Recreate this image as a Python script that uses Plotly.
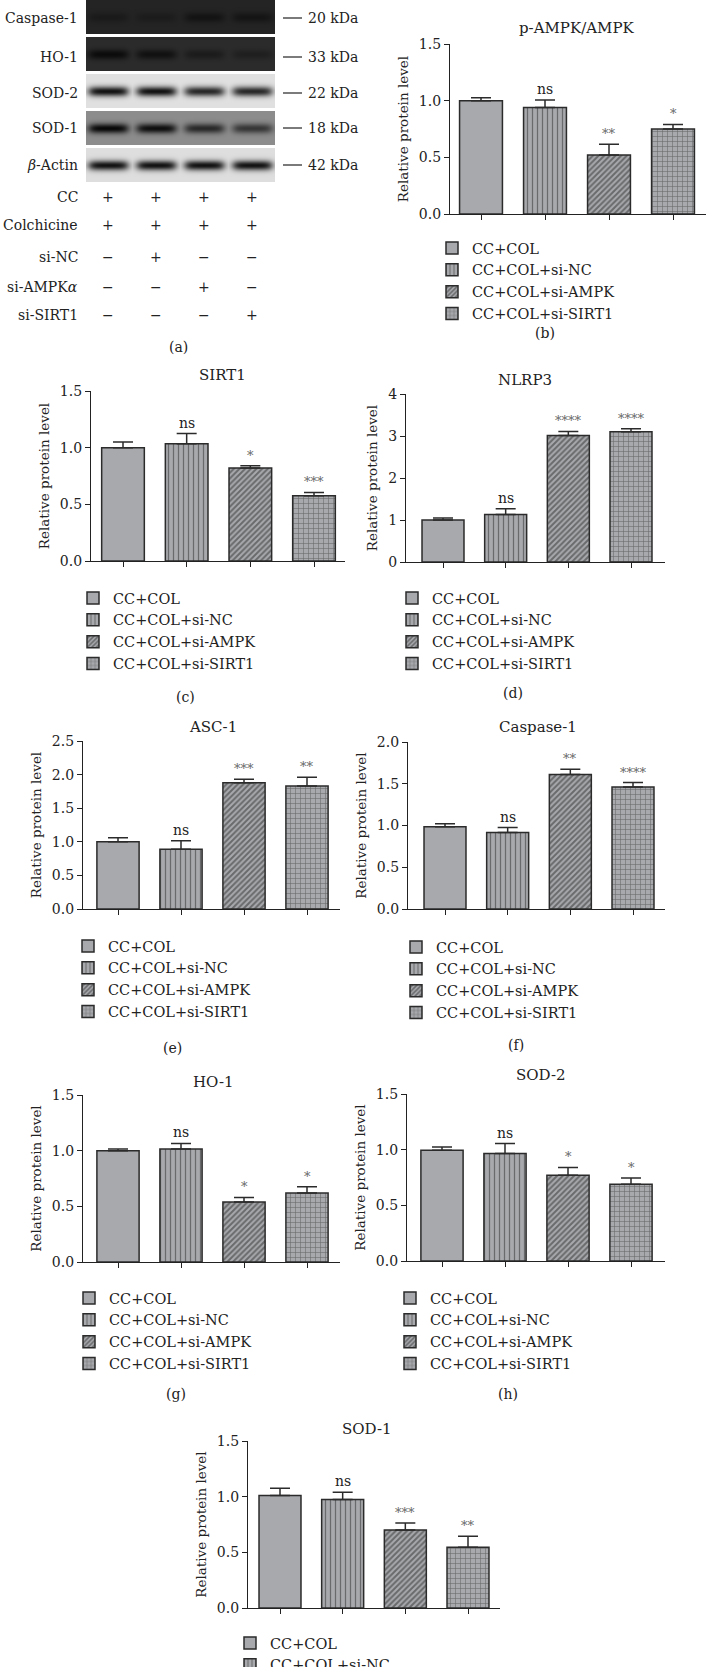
import numpy as np
import plotly.graph_objects as go

W, H = 706, 1667
FONT = "DejaVu Serif, Liberation Serif, serif"
INK = "#222222"
BAR_FILL = "#a7a9ac"
EDGE = "#2b2b2b"


def px(x):
    return x / W


def py(y):
    return 1 - y / H


groups = ["CC+COL", "CC+COL+si-NC", "CC+COL+si-AMPK", "CC+COL+si-SIRT1"]

ampk_mean = [1.00, 0.94, 0.52, 0.75]
ampk_err = [0.025, 0.065, 0.095, 0.04]
ampk_sig = ["", "ns", "**", "*"]

sirt1_mean = [1.00, 1.035, 0.82, 0.575]
sirt1_err = [0.05, 0.09, 0.02, 0.03]
sirt1_sig = ["", "ns", "*", "***"]

nlrp3_mean = [1.00, 1.13, 3.01, 3.10]
nlrp3_err = [0.05, 0.14, 0.10, 0.07]
nlrp3_sig = ["", "ns", "****", "****"]

asc_mean = [1.00, 0.89, 1.88, 1.83]
asc_err = [0.06, 0.125, 0.05, 0.13]
asc_sig = ["", "ns", "***", "**"]

casp_mean = [0.985, 0.915, 1.61, 1.46]
casp_err = [0.035, 0.06, 0.065, 0.055]
casp_sig = ["", "ns", "**", "****"]

ho1_mean = [1.00, 1.015, 0.54, 0.62]
ho1_err = [0.015, 0.05, 0.04, 0.055]
ho1_sig = ["", "ns", "*", "*"]

sod2_mean = [0.995, 0.965, 0.77, 0.69]
sod2_err = [0.03, 0.09, 0.07, 0.055]
sod2_sig = ["", "ns", "*", "*"]

sod1_mean = [1.01, 0.975, 0.70, 0.545]
sod1_err = [0.065, 0.065, 0.063, 0.10]
sod1_sig = ["", "ns", "***", "**"]

# western blot (panel a): background brightness and band strength per lane
blot_labels = ["Caspase-1", "HO-1", "SOD-2", "SOD-1", "<i>β</i>-Actin"]
blot_kda = ["20 kDa", "33 kDa", "22 kDa", "18 kDa", "42 kDa"]
blot_bg = [0.14, 0.17, 0.88, 0.55, 0.87]
blot_bands = [[0.35, 0.30, 0.60, 0.55],
              [0.90, 0.75, 0.45, 0.35],
              [0.95, 0.95, 0.85, 0.85],
              [1.00, 0.95, 0.75, 0.65],
              [0.95, 0.95, 0.95, 0.95]]

cond_labels = ["CC", "Colchicine", "si-NC", "si-AMPK<i>α</i>", "si-SIRT1"]
cond_signs = [["+", "+", "+", "+"],
              ["+", "+", "+", "+"],
              ["−", "+", "−", "−"],
              ["−", "−", "+", "−"],
              ["−", "−", "−", "+"]]

PATTERNS = [
    dict(shape=""),
    dict(shape="|", size=5, solidity=0.25, fgcolor=EDGE, fillmode="overlay"),
    dict(shape="/", size=4, solidity=0.5, fgcolor=EDGE, fillmode="overlay"),
    dict(shape="+", size=5, solidity=0.22, fgcolor=EDGE, fillmode="overlay"),
]

# panel geometry in pixels: axis x extent, first/last bar centre, y top/bottom
panels = [
    dict(title="p-AMPK/AMPK", mean=ampk_mean, err=ampk_err, sig=ampk_sig,
         ax=(450, 706), c=(481, 673), y=(44, 214), ymax=1.5, dtick=0.5, fmt=".1f",
         tpos=(576, 28), leg=(450, 247), lab="(b)", lpos=(545, 333)),
    dict(title="SIRT1", mean=sirt1_mean, err=sirt1_err, sig=sirt1_sig,
         ax=(91, 345), c=(123, 314), y=(391, 561), ymax=1.5, dtick=0.5, fmt=".1f",
         tpos=(222, 375), leg=(91, 597), lab="(c)", lpos=(185, 697)),
    dict(title="NLRP3", mean=nlrp3_mean, err=nlrp3_err, sig=nlrp3_sig,
         ax=(406, 665), c=(443, 631), y=(394, 562), ymax=4, dtick=1, fmt="d",
         tpos=(525, 380), leg=(410, 597), lab="(d)", lpos=(513, 693)),
    dict(title="ASC-1", mean=asc_mean, err=asc_err, sig=asc_sig,
         ax=(83, 340), c=(118, 307), y=(741, 909), ymax=2.5, dtick=0.5, fmt=".1f",
         tpos=(213, 727), leg=(86, 945), lab="(e)", lpos=(172, 1048)),
    dict(title="Caspase-1", mean=casp_mean, err=casp_err, sig=casp_sig,
         ax=(408, 665), c=(445, 633), y=(742, 909), ymax=2.0, dtick=0.5, fmt=".1f",
         tpos=(538, 727), leg=(414, 946), lab="(f)", lpos=(516, 1045)),
    dict(title="HO-1", mean=ho1_mean, err=ho1_err, sig=ho1_sig,
         ax=(83, 340), c=(118, 307), y=(1095, 1262), ymax=1.5, dtick=0.5, fmt=".1f",
         tpos=(213, 1082), leg=(87, 1297), lab="(g)", lpos=(176, 1394)),
    dict(title="SOD-2", mean=sod2_mean, err=sod2_err, sig=sod2_sig,
         ax=(407, 665), c=(442, 631), y=(1094, 1261), ymax=1.5, dtick=0.5, fmt=".1f",
         tpos=(541, 1075), leg=(408, 1297), lab="(h)", lpos=(508, 1394)),
    dict(title="SOD-1", mean=sod1_mean, err=sod1_err, sig=sod1_sig,
         ax=(248, 500), c=(280, 468), y=(1441, 1608), ymax=1.5, dtick=0.5, fmt=".1f",
         tpos=(367, 1429), leg=(248, 1642), lab=None, lpos=None),
]


def note(x, y, text, xanchor="center", size=14, color=INK):
    return dict(x=px(x), y=py(y), xref="paper", yref="paper", text=text,
                showarrow=False, xanchor=xanchor, yanchor="middle",
                font=dict(family=FONT, size=size, color=color))


fig = go.Figure()
layout = {}
annotations = []

for k, p in enumerate(panels, start=1):
    sfx = "" if k == 1 else str(k)
    xa, ya, leg = "x" + sfx, "y" + sfx, "legend" + sfx
    for i in range(4):
        fig.add_trace(go.Bar(
            x=[i], y=[p["mean"][i]], width=0.67, name=groups[i],
            xaxis=xa, yaxis=ya, legend=leg, showlegend=True,
            marker=dict(color=BAR_FILL, line=dict(color=EDGE, width=1.5),
                        pattern=PATTERNS[i]),
            error_y=dict(type="data", symmetric=False, array=[p["err"][i]],
                         arrayminus=[0], color=EDGE, thickness=1.5, width=10),
            hoverinfo="skip"))
        if p["sig"][i]:
            star = p["sig"][i] != "ns"
            annotations.append(dict(
                x=i, y=p["mean"][i] + p["err"][i], xref=xa, yref=ya,
                text=p["sig"][i], showarrow=False, xanchor="center",
                yanchor="bottom", yshift=1,
                font=dict(family=FONT, size=13 if star else 14,
                          color="#666666" if star else INK)))
    x0, x1 = p["ax"]
    c0, c3 = p["c"]
    s = (c3 - c0) / 3
    yt, yb = p["y"]
    layout["xaxis" + sfx] = dict(
        domain=[px(x0), px(x1)], range=[(x0 - c0) / s, (x1 - c0) / s],
        anchor=ya, showgrid=False, zeroline=False, showline=True,
        linecolor=INK, linewidth=1.3, ticks="outside", tickvals=[0, 1, 2, 3],
        ticklen=5, tickwidth=1.3, tickcolor=INK, showticklabels=False)
    layout["yaxis" + sfx] = dict(
        domain=[py(yb), py(yt)], range=[0, p["ymax"]], anchor=xa,
        dtick=p["dtick"], tickformat=p["fmt"], showgrid=False, zeroline=False,
        showline=True, linecolor=INK, linewidth=1.3, ticks="outside",
        ticklen=5, tickwidth=1.3, tickcolor=INK,
        tickfont=dict(family=FONT, size=14, color=INK),
        title=dict(text="Relative protein level", standoff=7,
                   font=dict(family=FONT, size=13.5, color=INK)))
    lx, ly = p["leg"]
    layout[leg] = dict(
        x=px(lx - 18), y=py(ly - 15), xanchor="left", yanchor="top",
        bgcolor="rgba(0,0,0,0)", traceorder="normal", itemwidth=30,
        font=dict(family=FONT, size=14.5, color=INK))
    tx, ty = p["tpos"]
    annotations.append(note(tx, ty, p["title"], size=15))
    if p["lab"]:
        annotations.append(note(p["lpos"][0], p["lpos"][1], p["lab"]))

# blot image as a heatmap
row_tops = [0, 37, 74, 111, 148]
row_h = 34
lane_c = [22, 70, 118, 166]
bw, bh = 189, 182
img = np.ones((bh, bw))
cols = np.arange(bw)
for r, top in enumerate(row_tops):
    rows = np.arange(row_h)
    vy = np.exp(-((rows - row_h / 2) / 5.0) ** 2)
    dark = np.zeros((row_h, bw))
    for li, lc in enumerate(lane_c):
        hx = 1 / (1 + np.exp((np.abs(cols - lc) - 19) / 2.5))
        dark = np.maximum(dark, blot_bands[r][li] * np.outer(vy, hx))
    bg = blot_bg[r]
    img[top:top + row_h, :] = bg - (bg - 0.03) * dark

fig.add_trace(go.Heatmap(z=img, x=cols, y=np.arange(bh), xaxis="x9", yaxis="y9",
                         colorscale=[[0, "black"], [1, "white"]], zmin=0, zmax=1,
                         showscale=False, hoverinfo="skip"))
layout["xaxis9"] = dict(domain=[px(86), px(275)], range=[-0.5, bw - 0.5],
                        anchor="y9", visible=False)
layout["yaxis9"] = dict(domain=[py(182), py(0)], range=[bh - 0.5, -0.5],
                        anchor="x9", visible=False)

label_y = [18, 57, 93, 128, 165]
shapes = []
for r in range(5):
    annotations.append(note(80, label_y[r], blot_labels[r], xanchor="right"))
    annotations.append(note(306, label_y[r], blot_kda[r], xanchor="left"))
    shapes.append(dict(type="line", xref="paper", yref="paper",
                       x0=px(283), x1=px(302), y0=py(label_y[r]), y1=py(label_y[r]),
                       line=dict(color=INK, width=1.2)))

lane_x = [108, 156, 204, 252]
cond_y = [197, 225, 257, 287, 315]
for r in range(5):
    annotations.append(note(80, cond_y[r], cond_labels[r], xanchor="right"))
    for li in range(4):
        annotations.append(note(lane_x[li], cond_y[r], cond_signs[r][li]))
annotations.append(note(179, 347, "(a)"))

fig.update_layout(**layout)
fig.update_layout(
    width=W, height=H, margin=dict(l=0, r=0, t=0, b=0, autoexpand=False),
    paper_bgcolor="white", plot_bgcolor="white", barmode="overlay",
    annotations=annotations, shapes=shapes,
    font=dict(family=FONT, size=14, color=INK))

# the page body has a default 8px margin; drop it so the figure sits at 0,0
fig.write_html("out.html", config={"displayModeBar": False},
               post_script="document.body.style.margin = '0';")
